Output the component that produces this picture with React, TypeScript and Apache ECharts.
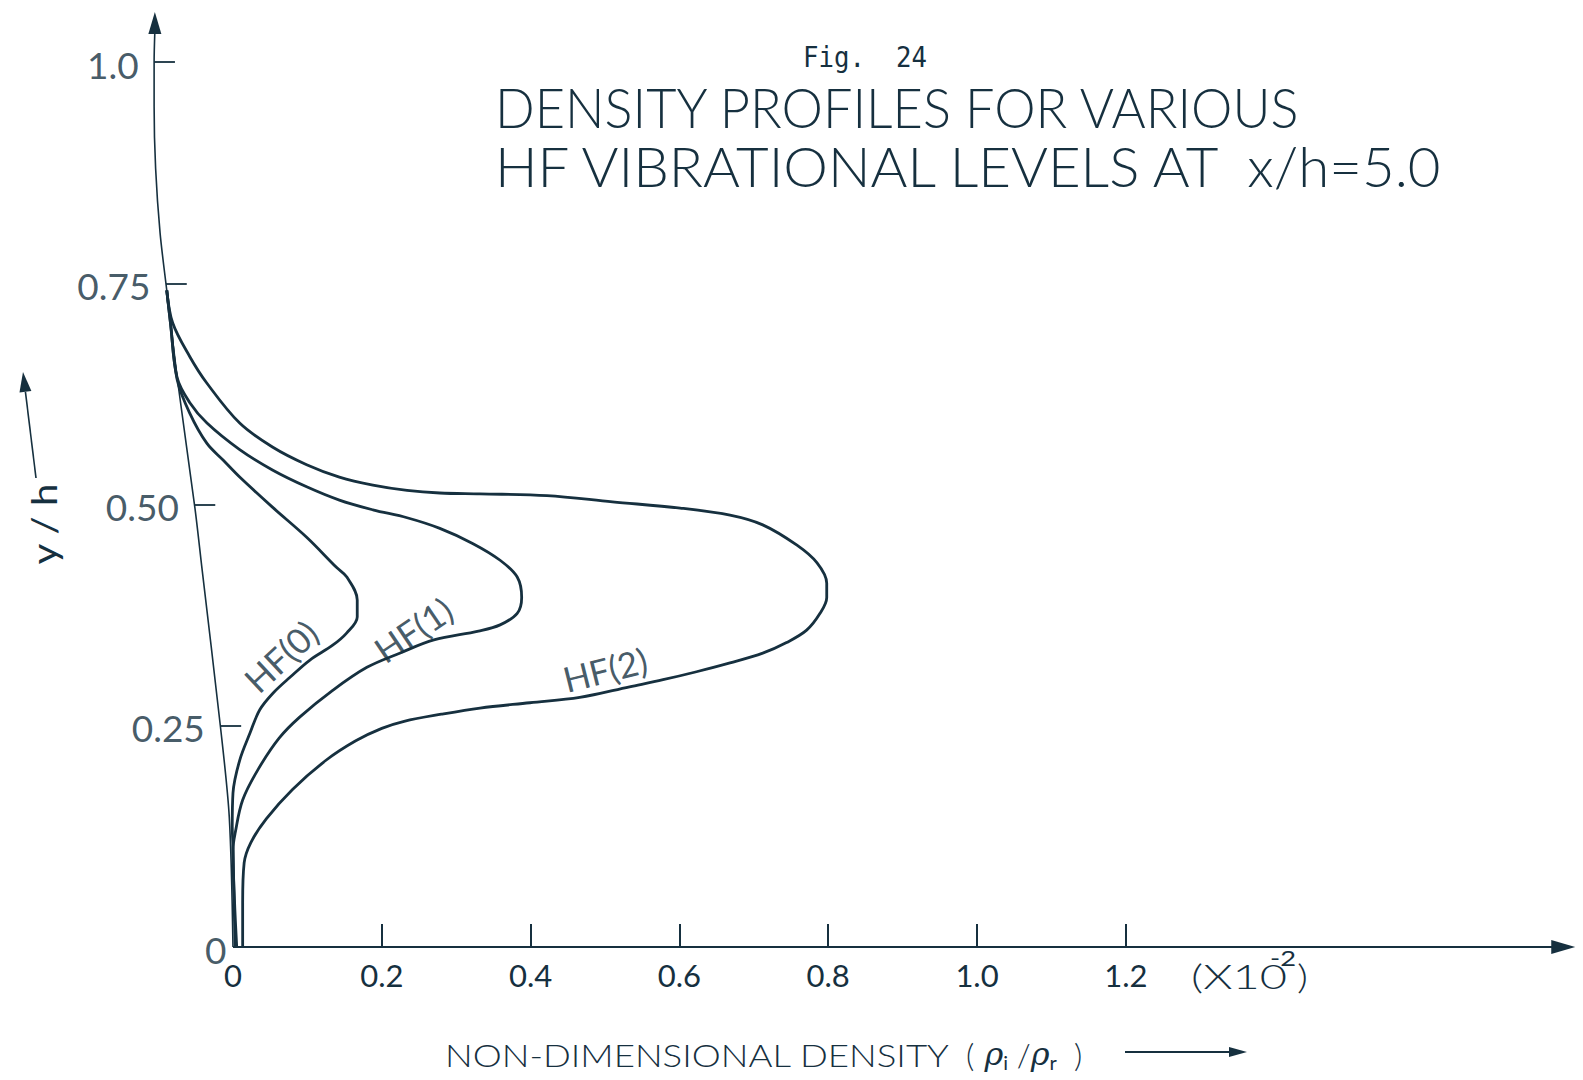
import { useEffect, useRef } from 'react';
import * as echarts from 'echarts';

const INK = '#16303f';
const SANS = 'Lato';

// Density profiles, each point is [rho_i/rho_r (x10^-2), y/h], listed from the top of the layer down
const hf0Profile: number[][] = [
  [-0.089, 0.742], [-0.084, 0.705], [-0.075, 0.641], [-0.058, 0.603], [-0.035, 0.569],
  [-0.013, 0.55], [0.009, 0.531], [0.053, 0.497], [0.099, 0.463], [0.139, 0.429],
  [0.153, 0.418], [0.167, 0.392], [0.167, 0.373], [0.153, 0.355], [0.134, 0.341],
  [0.103, 0.324], [0.077, 0.305], [0.054, 0.287], [0.036, 0.268], [0.023, 0.242],
  [0.009, 0.211], [0.0, 0.174], [-0.001, 0.136], [0.0, 0.113], [0.001, 0.068], [0.003, 0.0],
];

const hf1Profile: number[][] = [
  [-0.089, 0.742], [-0.084, 0.705], [-0.075, 0.643], [-0.058, 0.615], [-0.035, 0.592],
  [0.009, 0.562], [0.053, 0.539], [0.099, 0.52], [0.143, 0.505], [0.188, 0.494],
  [0.234, 0.485], [0.278, 0.473], [0.322, 0.456], [0.359, 0.437], [0.382, 0.418],
  [0.388, 0.395], [0.382, 0.377], [0.359, 0.364], [0.33, 0.357], [0.27, 0.347],
  [0.224, 0.332], [0.18, 0.316], [0.134, 0.29], [0.09, 0.26], [0.062, 0.236],
  [0.034, 0.201], [0.013, 0.166], [0.003, 0.129], [0.0, 0.11], [0.002, 0.053], [0.005, 0.0],
];

const hf2Profile: number[][] = [
  [-0.089, 0.742], [-0.081, 0.705], [-0.058, 0.667], [-0.035, 0.637], [0.009, 0.592],
  [0.053, 0.565], [0.099, 0.545], [0.143, 0.531], [0.188, 0.522], [0.234, 0.516],
  [0.278, 0.513], [0.332, 0.512], [0.422, 0.51], [0.51, 0.503], [0.601, 0.496],
  [0.668, 0.488], [0.712, 0.477], [0.758, 0.454], [0.785, 0.434], [0.798, 0.411],
  [0.798, 0.395], [0.789, 0.377], [0.771, 0.358], [0.744, 0.344], [0.712, 0.332],
  [0.668, 0.321], [0.623, 0.311], [0.578, 0.302], [0.533, 0.294], [0.466, 0.282],
  [0.399, 0.276], [0.332, 0.27], [0.28, 0.263], [0.23, 0.255], [0.2, 0.247],
  [0.165, 0.233], [0.125, 0.211], [0.08, 0.178], [0.045, 0.145], [0.024, 0.118],
  [0.015, 0.095], [0.013, 0.05], [0.013, 0.0],
];

const profileNames = ['HF(0)', 'HF(1)', 'HF(2)'];
const profileLabelAt: number[][] = [[0.064, 0.329], [0.242, 0.359], [0.5, 0.314]];
const profileLabelAngle = [43, 34, 14];

const xTickValues = [0.2, 0.4, 0.6, 0.8, 1.0, 1.2];
const xLabelValues = [0, 0.2, 0.4, 0.6, 0.8, 1.0, 1.2];
const xLabelTexts = ['0', '0.2', '0.4', '0.6', '0.8', '1.0', '1.2'];
const yTickValues = [0.25, 0.5, 0.75, 1.0];
const yLabelValues = [0, 0.25, 0.5, 0.75, 1.0];
const yLabelTexts = ['0', '0.25', '0.50', '0.75', '1.0'];

// The ordinate is drawn freehand: its horizontal offset at each height
const ordinateLine: number[][] = [
  [0.0, 0.0], [-0.005, 0.147], [-0.017, 0.25], [-0.042, 0.43], [-0.051, 0.495],
  [-0.074, 0.637], [-0.089, 0.742], [-0.098, 0.807], [-0.104, 0.88], [-0.106, 0.95],
  [-0.106, 1.0], [-0.105, 1.035],
];

const X_MIN = -0.12;
const X_MAX = 1.81;
const Y_MAX = 1.06;
const X_ARROW_TIP = 1.804;
const Y_ARROW_CENTER = 1.044;
const Y_TICK_LEN = 0.028;

function ordinateX(v: number): number {
  for (let i = 1; i < ordinateLine.length; i++) {
    const [x0, y0] = ordinateLine[i - 1];
    const [x1, y1] = ordinateLine[i];
    if (v <= y1) return x0 + ((x1 - x0) * (v - y0)) / (y1 - y0);
  }
  return ordinateLine[ordinateLine.length - 1][0];
}

let measureCtx: CanvasRenderingContext2D | null = null;
function fitScale(text: string, font: string, width: number): number {
  if (!measureCtx) measureCtx = document.createElement('canvas').getContext('2d');
  if (!measureCtx) return 1;
  measureCtx.font = font;
  const w = measureCtx.measureText(text).width;
  return w > 0 ? width / w : 1;
}

function fittedText(text: string, font: string, x: number, y: number, width: number, extra: any = {}) {
  return {
    type: 'text',
    x,
    y,
    scaleX: fitScale(text, font, width),
    silent: true,
    ...extra,
    style: { text, font, fill: INK, align: extra.align ?? 'left', verticalAlign: 'middle' },
  };
}

function arrowGraphic(x1: number, y1: number, x2: number, y2: number, head = 18, half = 5, width = 2) {
  const dx = x2 - x1;
  const dy = y2 - y1;
  const len = Math.hypot(dx, dy);
  const ux = dx / len;
  const uy = dy / len;
  const bx = x2 - ux * head;
  const by = y2 - uy * head;
  return [
    { type: 'line', silent: true, shape: { x1, y1, x2: bx, y2: by }, style: { stroke: INK, lineWidth: width } },
    {
      type: 'polygon',
      silent: true,
      shape: { points: [[x2, y2], [bx - uy * half, by + ux * half], [bx + uy * half, by - ux * half]] },
      style: { fill: INK },
    },
  ];
}

function profileSeries(name: string, data: number[][]) {
  return {
    type: 'line',
    name,
    data,
    smooth: 0.35,
    symbol: 'none',
    silent: true,
    clip: false,
    lineStyle: { color: INK, width: 2.8 },
    z: 3,
  };
}

function buildOption() {
  const titleFont = `300 56px ${SANS}`;
  const nameFont = `300 32px ${SANS}`;
  const monoFont = `28px "DejaVu Sans Mono"`;

  return {
    animation: false,
    backgroundColor: '#ffffff',
    grid: { left: 143.7, top: 8.9, width: 1436, height: 938.1 },
    xAxis: {
      type: 'value',
      min: X_MIN,
      max: X_MAX,
      axisLine: { show: false },
      splitLine: { show: false },
      axisTick: {
        show: true,
        inside: true,
        length: 23,
        customValues: xTickValues,
        lineStyle: { color: INK, width: 2 },
      },
      axisLabel: {
        customValues: xLabelValues,
        margin: 12,
        color: INK,
        fontFamily: SANS,
        fontWeight: 400,
        fontSize: 31,
        formatter: (v: number) => {
          const i = xLabelValues.findIndex((t) => Math.abs(t - v) < 1e-9);
          return i >= 0 ? xLabelTexts[i] : '';
        },
      },
    },
    yAxis: { type: 'value', min: 0, max: Y_MAX, show: false, splitLine: { show: false } },
    series: [
      {
        type: 'line',
        name: 'ordinate',
        data: ordinateLine,
        smooth: 0.3,
        symbol: 'none',
        silent: true,
        clip: false,
        lineStyle: { color: INK, width: 1.6 },
        z: 2,
        markLine: {
          silent: true,
          symbol: 'none',
          label: { show: false },
          lineStyle: { color: INK, width: 2, type: 'solid' },
          data: [
            [{ coord: [0, 0] }, { coord: [X_ARROW_TIP - 0.02, 0] }],
            ...yTickValues.map((v) => [
              { coord: [ordinateX(v), v], lineStyle: { width: 1.8 } },
              { coord: [ordinateX(v) + Y_TICK_LEN, v] },
            ]),
          ],
        },
        markPoint: {
          silent: true,
          label: { show: false },
          data: [
            {
              coord: [X_ARROW_TIP - 12 / 743.9, 0],
              symbol: 'triangle',
              symbolSize: [14, 24],
              symbolRotate: -90,
              itemStyle: { color: INK },
            },
            {
              coord: [ordinateX(Y_ARROW_CENTER), Y_ARROW_CENTER],
              symbol: 'triangle',
              symbolSize: [13, 22],
              itemStyle: { color: INK },
            },
          ],
        },
      },
      profileSeries(profileNames[0], hf0Profile),
      profileSeries(profileNames[1], hf1Profile),
      profileSeries(profileNames[2], hf2Profile),
      {
        type: 'scatter',
        name: 'ordinate labels',
        silent: true,
        symbolSize: 1,
        itemStyle: { color: 'rgba(0,0,0,0)' },
        data: yLabelValues.map((v) => ({
          value: [ordinateX(v), v],
          label: { distance: v === 0 ? 6 : 15 },
        })),
        label: {
          show: true,
          position: 'left',
          color: INK,
          fontFamily: SANS,
          fontWeight: 400,
          fontSize: 37,
          offset: [0, 2],
          formatter: (p: any) => yLabelTexts[p.dataIndex],
        },
      },
      {
        type: 'scatter',
        name: 'profile labels',
        silent: true,
        symbolSize: 1,
        itemStyle: { color: 'rgba(0,0,0,0)' },
        data: profileNames.map((n, i) => ({
          name: n,
          value: profileLabelAt[i],
          label: { rotate: profileLabelAngle[i] },
        })),
        label: {
          show: true,
          position: 'inside',
          color: INK,
          fontFamily: SANS,
          fontWeight: 400,
          fontSize: 35,
          formatter: '{b}',
        },
      },
    ],
    graphic: [
      fittedText('Fig.  24', monoFont, 803, 57, 124),
      fittedText('DENSITY PROFILES FOR VARIOUS', titleFont, 495, 107, 807),
      fittedText('HF VIBRATIONAL LEVELS AT  x/h=5.0', titleFont, 495, 166, 954),
      fittedText('NON-DIMENSIONAL DENSITY', nameFont, 445, 1054, 505),
      {
        type: 'text',
        x: 966,
        y: 1054,
        silent: true,
        style: {
          text: '{p|(}{g| ρ}{s|i}{p| /}{g|ρ}{s|r}{p|  )}',
          fill: INK,
          align: 'left',
          verticalAlign: 'middle',
          rich: {
            p: { fontFamily: SANS, fontWeight: 300, fontSize: 32, lineHeight: 36, color: INK },
            g: { fontFamily: 'DejaVu Serif', fontStyle: 'italic', fontSize: 32, lineHeight: 36, color: INK },
            s: { fontFamily: SANS, fontWeight: 400, fontSize: 20, lineHeight: 20, verticalAlign: 'bottom', color: INK },
          },
        },
      },
      ...arrowGraphic(1125, 1052, 1247, 1052, 18, 5, 1.8),
      fittedText('(X10', `300 34px ${SANS}`, 1191, 976, 96),
      fittedText('-2', `400 21px ${SANS}`, 1270, 958, 26),
      fittedText(')', `300 34px ${SANS}`, 1297, 976, 11),
      fittedText('y / h', `400 34px ${SANS}`, 44, 524, 82, { rotation: Math.PI / 2, align: 'center' }),
      ...arrowGraphic(36, 478, 23, 372, 20, 6, 1.6),
    ],
  };
}

export default function App() {
  const ref = useRef<HTMLDivElement>(null);

  useEffect(() => {
    if (!ref.current) return;
    const chart = echarts.init(ref.current, null, { renderer: 'svg' });
    chart.setOption(buildOption() as any);
    return () => chart.dispose();
  }, []);

  return (
    <div
      ref={ref}
      style={{ position: 'absolute', left: 0, top: 0, width: 1583, height: 1080, background: '#ffffff' }}
    />
  );
}
